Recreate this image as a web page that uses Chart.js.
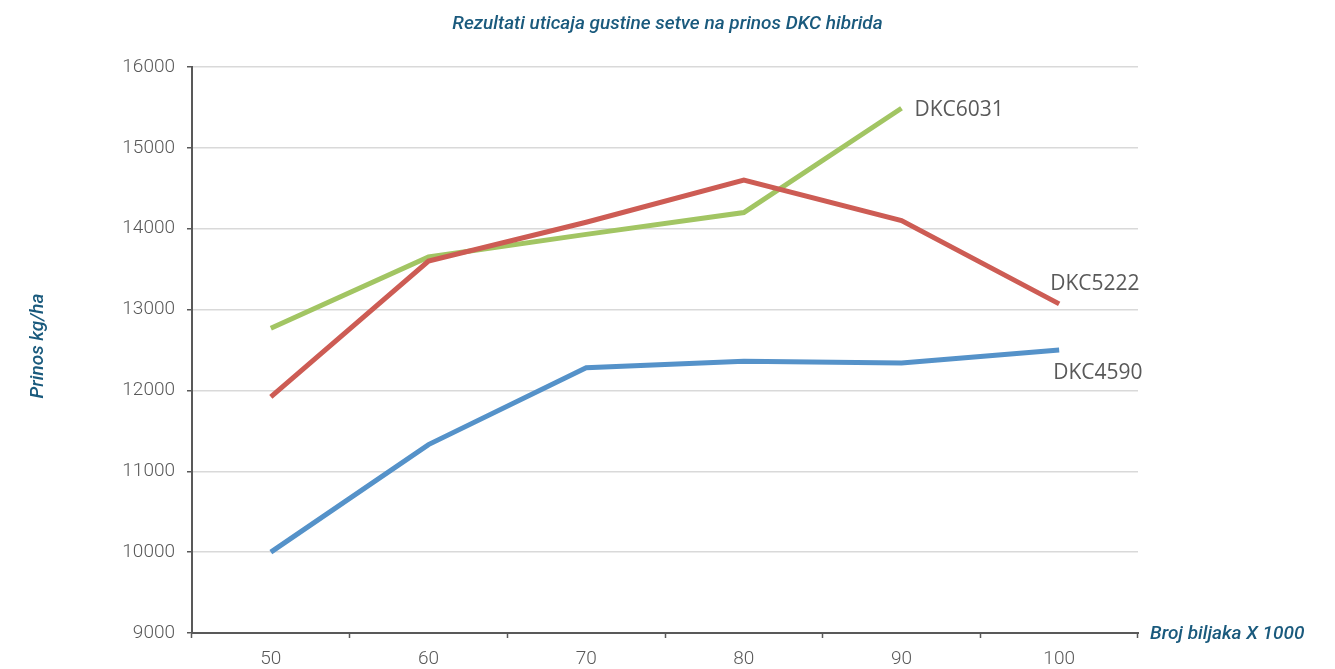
<!DOCTYPE html>
<html lang="sr">
<head>
  <meta charset="UTF-8" />
  <title>Rezultati uticaja gustine setve na prinos DKC hibrida</title>
  <script src="https://cdn.jsdelivr.net/npm/chart.js"></script>
  <style>
    html, body {
      margin: 0;
      padding: 0;
      background: #ffffff;
    }
    #wrap {
      width: 1335px;
      height: 669px;
    }
  </style>
</head>
<body>
  <div id="wrap"><canvas id="chart"></canvas></div>

  <script>
    // Data
    const density = ['50', '60', '70', '80', '90', '100'];
    const dkc4590 = [10000, 11330, 12280, 12360, 12340, 12500];
    const dkc5222 = [11920, 13600, 14080, 14600, 14100, 13070];
    const dkc6031 = [12770, 13650, 13930, 14200, 15490, null];
    const seriesNames = ['DKC4590', 'DKC5222', 'DKC6031'];
    const yTicks = [9000, 10000, 11000, 12000, 13000, 14000, 15000, 16000];

    const chartTitle = 'Rezultati uticaja gustine setve na prinos DKC hibrida';
    const yTitle = 'Prinos kg/ha';
    const xTitle = 'Broj biljaka X 1000';

    const axisGrey = '#595959';
    const titleBlue = '#1a5a7d';
    const italicFont = 'italic 500 19px Roboto, "Noto Sans", sans-serif';

    // where each series name sits relative to its last point
    const endLabelOffsets = [
      { dx: -6, dy: 23 },
      { dx: -9, dy: -20 },
      { dx: 13, dy: 2 }
    ];

    const extraText = {
      id: 'extraText',
      afterDatasetsDraw(chart) {
        const { ctx, scales } = chart;
        ctx.save();

        // title, centred on the whole canvas
        ctx.font = italicFont;
        ctx.fillStyle = titleBlue;
        ctx.textAlign = 'center';
        ctx.textBaseline = 'middle';
        ctx.fillText(chartTitle, chart.width / 2, 24);

        // series names at line ends
        ctx.font = '21px "Open Sans", sans-serif';
        ctx.fillStyle = axisGrey;
        ctx.textAlign = 'left';
        chart.data.datasets.forEach((ds, i) => {
          let last = ds.data.length - 1;
          while (ds.data[last] == null) last--;
          const x = scales.x.getPixelForValue(last);
          const y = scales.y.getPixelForValue(ds.data[last]);
          const o = endLabelOffsets[i];
          ctx.fillText(seriesNames[i], x + o.dx, y + o.dy);
        });

        // axis titles
        ctx.font = italicFont;
        ctx.fillStyle = titleBlue;
        ctx.fillText(xTitle, scales.x.right + 12, scales.y.bottom + 1);

        ctx.translate(38, (chart.chartArea.top + chart.chartArea.bottom) / 2 - 4);
        ctx.rotate(-Math.PI / 2);
        ctx.textAlign = 'center';
        ctx.fillText(yTitle, 0, 0);
        ctx.restore();
      }
    };

    const colors = ['#5592c9', '#cd5c54', '#a2c563'];
    const seriesData = [dkc4590, dkc5222, dkc6031];

    new Chart(document.getElementById('chart'), {
      type: 'line',
      data: {
        labels: density,
        datasets: seriesData.map((d, i) => ({
          label: seriesNames[i],
          data: d,
          borderColor: colors[i],
          backgroundColor: colors[i],
          borderWidth: 5,
          pointRadius: 0,
          tension: 0,
          fill: false
        }))
      },
      options: {
        responsive: true,
        maintainAspectRatio: false,
        animation: false,
        layout: {
          padding: { left: 0, right: 197, top: 67, bottom: 0 }
        },
        scales: {
          x: {
            offset: true,
            grid: {
              offset: true,
              drawOnChartArea: false,
              drawTicks: true,
              tickLength: 5,
              tickColor: axisGrey,
              tickWidth: 1.5
            },
            border: { color: axisGrey, width: 2 },
            ticks: {
              color: axisGrey,
              padding: 10,
              font: { family: 'Roboto, sans-serif', size: 19, weight: 300 }
            },
            afterFit(scale) { scale.height = 36; }
          },
          y: {
            min: 9000,
            max: 16000,
            afterBuildTicks(scale) {
              scale.ticks = yTicks.map(v => ({ value: v }));
            },
            grid: {
              color: '#d9d9d9',
              lineWidth: 1.5,
              drawTicks: true,
              tickLength: 5,
              tickColor: axisGrey,
              tickWidth: 1.5
            },
            border: { color: axisGrey, width: 2 },
            ticks: {
              color: axisGrey,
              padding: 12,
              font: { family: 'Roboto, sans-serif', size: 19, weight: 300 },
              callback: v => String(v)
            },
            afterFit(scale) { scale.width = 192; }
          }
        },
        plugins: {
          legend: { display: false },
          tooltip: { enabled: false },
          title: { display: false }
        }
      },
      plugins: [extraText]
    });
  </script>
</body>
</html>
